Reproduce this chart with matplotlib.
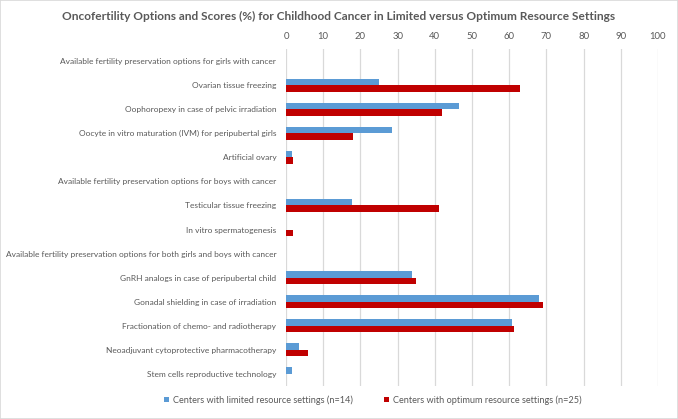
import matplotlib
matplotlib.use("Agg")
import matplotlib.pyplot as plt
from matplotlib.patches import Rectangle
import numpy as np

categories = [
    "Available fertility preservation options for girls with cancer",
    "Ovarian tissue freezing",
    "Oophoropexy in case of pelvic irradiation",
    "Oocyte in vitro maturation (IVM) for peripubertal girls",
    "Artificial ovary",
    "Available fertility preservation options for boys with cancer",
    "Testicular tissue freezing",
    "In vitro spermatogenesis",
    "Available fertility preservation options for both girls and boys with cancer",
    "GnRH analogs in case of peripubertal child",
    "Gonadal shielding in case of irradiation",
    "Fractionation of chemo- and radiotherapy",
    "Neoadjuvant cytoprotective pharmacotherapy",
    "Stem cells reproductive technology",
]
limited = [0, 25.0, 46.5, 28.5, 1.6, 0, 17.7, 0, 0, 33.9, 68.0, 60.8, 3.4, 1.6]
optimum = [0, 63.0, 42.0, 18.0, 2.0, 0, 41.0, 2.0, 0, 35.0, 69.2, 61.2, 5.8, 0]
ticks = list(range(0, 101, 10))

label_limited = "Centers with limited resource settings (n=14)"
label_optimum = "Centers with optimum resource settings (n=25)"

plt.rcParams['font.family'] = ['Lato', 'DejaVu Sans']
txt = "#595959"

fig = plt.figure(figsize=(6.78, 4.19), dpi=100)
ax = fig.add_axes([286/678, 1-386/419, (658-286)/678, (386-49)/419])

y = np.arange(len(categories))
h = 0.27
ax.barh(y - h/2, limited, height=h, color="#5B9BD5", label=label_limited, zorder=3)
ax.barh(y + h/2, optimum, height=h, color="#C00000", label=label_optimum, zorder=3)

ax.set_ylim(len(categories) - 0.5, -0.5)
ax.set_xlim(0, 100)
ax.set_xticks(ticks)
ax.xaxis.tick_top()
ax.tick_params(axis='x', length=0, pad=6, labelsize=6.8, labelcolor=txt)
ax.set_yticks(y)
ax.set_yticklabels(categories)
ax.tick_params(axis='y', length=0, pad=7, labelsize=6.0, labelcolor=txt)
ax.grid(axis='x', color="#D9D9D9", linewidth=0.9, zorder=0)
for s in ax.spines.values():
    s.set_visible(False)

fig.text(0.5, 1-16/419, "Oncofertility Options and Scores (%) for Childhood Cancer in Limited versus Optimum Resource Settings",
         ha='center', va='center', fontsize=8.6, fontweight='bold', color=txt)

leg = fig.legend(loc='center', bbox_to_anchor=(373/678, 1-400/419), ncol=2, frameon=False,
                 fontsize=6.6, handlelength=0.55, handleheight=0.55, handletextpad=0.4,
                 columnspacing=3.4)
for t in leg.get_texts():
    t.set_color(txt)

fig.patches.append(Rectangle((0, 0), 1, 1, transform=fig.transFigure, fill=False,
                             edgecolor="#D9D9D9", linewidth=1.2))

fig.savefig("out.png", dpi=100)
